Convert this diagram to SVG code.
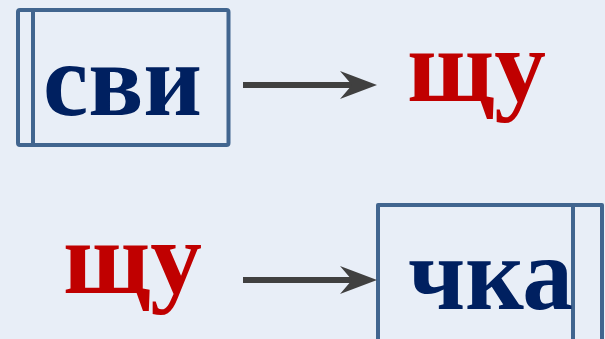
<svg xmlns="http://www.w3.org/2000/svg" width="605" height="339" viewBox="0 0 605 339">
<style>
.box{fill:none;stroke:#41658F;stroke-width:4;stroke-linejoin:round}
.bar{stroke:#41658F;stroke-width:4}
.t{font-family:"Liberation Serif","Times New Roman",serif;font-weight:bold;font-size:104px}
.blue{fill:#002060}
.red{fill:#C00000}
.ln{stroke:#404040;stroke-width:6}
</style>
<defs>
<marker id="ah" markerUnits="userSpaceOnUse" markerWidth="40" markerHeight="30" refX="12" refY="14" orient="auto">
<path d="M0,0 L37,14 L0,28 L12,14 Z" fill="#404040"/>
</marker>
</defs>
<rect width="605" height="339" fill="#E8EEF7"/>
<g id="node-svi">
<rect class="box" x="18" y="10" width="210.500" height="135" rx="2"/>
<line class="bar" x1="33" y1="10" x2="33" y2="145"/>
<text class="t blue" x="43" y="115" textLength="159" lengthAdjust="spacingAndGlyphs">сви</text>
</g>
<g id="node-shchu1">
<text class="t red" x="407" y="101" textLength="139" lengthAdjust="spacingAndGlyphs">щу</text>
</g>
<g id="node-shchu2">
<text class="t red" x="63" y="293" textLength="139" lengthAdjust="spacingAndGlyphs">щу</text>
</g>
<g id="node-chka">
<path class="box" d="M378,345 L378,205 L602,205 L602,345"/>
<line class="bar" x1="573" y1="205" x2="573" y2="345"/>
<text class="t blue" x="408" y="309" textLength="165" lengthAdjust="spacingAndGlyphs">чка</text>
</g>
<g id="connectors">
<line class="ln" x1="243" y1="85" x2="352" y2="85" marker-end="url(#ah)"/>
<line class="ln" x1="243" y1="280" x2="352" y2="280" marker-end="url(#ah)"/>
</g>
</svg>
